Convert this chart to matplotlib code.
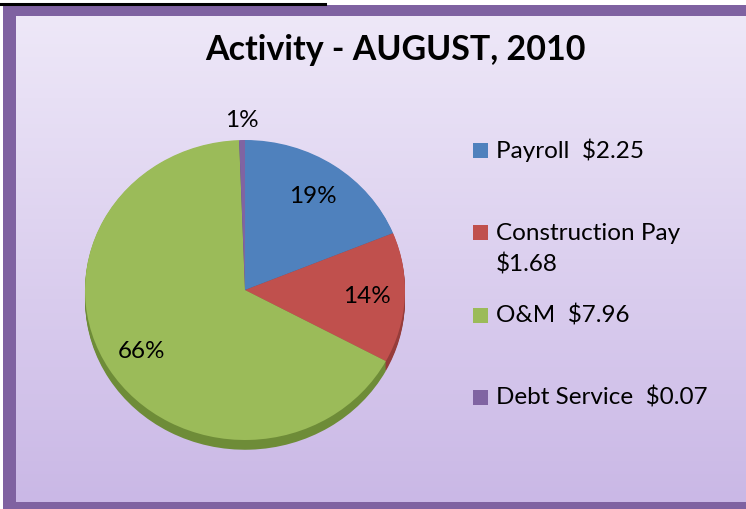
import numpy as np
import matplotlib.pyplot as plt
from matplotlib.patches import Rectangle

# data
categories = ['Payroll', 'Construction Pay', 'O&M', 'Debt Service']
amounts = [2.25, 1.68, 7.96, 0.07]
pct_labels = ['19%', '14%', '66%', '1%']
legend_labels = ['Payroll  $2.25', 'Construction Pay\n$1.68', 'O&M  $7.96', 'Debt Service  $0.07']
colors = ['#4F81BD', '#C0504D', '#9BBB59', '#8064A2']
side_colors = ['#3A6296', '#963C3A', '#6E8C38', '#5E4980']

plt.rcParams['font.family'] = ['Lato', 'DejaVu Sans']

W, H = 746, 510
fig = plt.figure(figsize=(W / 100, H / 100), dpi=100)

# background in pixel coords
bg = fig.add_axes([0, 0, 1, 1])
bg.set_xlim(0, W)
bg.set_ylim(H, 0)
bg.axis('off')
grad = np.linspace(0, 1, 256).reshape(-1, 1)
top = np.array([238, 232, 248]) / 255
bot = np.array([202, 184, 230]) / 255
img = top + grad[..., None] * (bot - top)
bg.imshow(np.repeat(img, 2, axis=1), extent=(16, W, 503, 17), aspect='auto', zorder=0)
frame = '#7F62A1'
bg.add_patch(Rectangle((3, 6), W - 3, 11, color=frame, lw=0))
bg.add_patch(Rectangle((3, 6), 13, H - 6, color=frame, lw=0))
bg.add_patch(Rectangle((3, 503), W - 3, 7, color=frame, lw=0))
bg.plot([0, 325], [4.5, 4.5], color='black', lw=2.2)

# title
fig.text(395 / W, 1 - 50 / H, 'Activity - AUGUST, 2010', ha='center', va='center',
         fontsize=24.5, fontweight='bold')

# pie (slightly flattened, with a thin 3D edge)
cx, cy, rx, ry = 245, 291, 160, 150
ax = fig.add_axes([(cx - rx) / W, 1 - (cy + ry) / H, 2 * rx / W, 2 * ry / H])

for k, dy in enumerate(np.linspace(0.065, 0.005, 8)):
    ws, _ = ax.pie(amounts, colors=side_colors, startangle=90, counterclock=False,
                   center=(0, -dy), radius=1, frame=False)
    for w in ws:
        w.set_clip_on(False)
        w.set_zorder(1)
wedges, _ = ax.pie(amounts, colors=colors, startangle=90, counterclock=False,
                   radius=1, frame=False)
for w in wedges:
    w.set_clip_on(False)
    w.set_zorder(2)
ax.set_xlim(-1, 1)
ax.set_ylim(-1, 1)
ax.set_aspect('auto')
ax.axis('off')

for w, lab in zip(wedges, pct_labels):
    ang = np.deg2rad((w.theta1 + w.theta2) / 2)
    r = 0.76 if lab != '1%' else 1.14
    ax.text(r * np.cos(ang), r * np.sin(ang), lab, ha='center', va='center',
            fontsize=17.5, zorder=5, clip_on=False)

# legend
leg_y = [151, 233, 316, 398]
for c, lab, y in zip(colors, legend_labels, leg_y):
    bg.add_patch(Rectangle((473, y - 7.5), 15, 15, color=c, lw=0, zorder=3))
    lines = lab.split('\n')
    for i, line in enumerate(lines):
        bg.text(496, y + 7 + 32 * i, line, ha='left', va='baseline', fontsize=17.5, zorder=3)

plt.savefig('out.png', dpi=100)
